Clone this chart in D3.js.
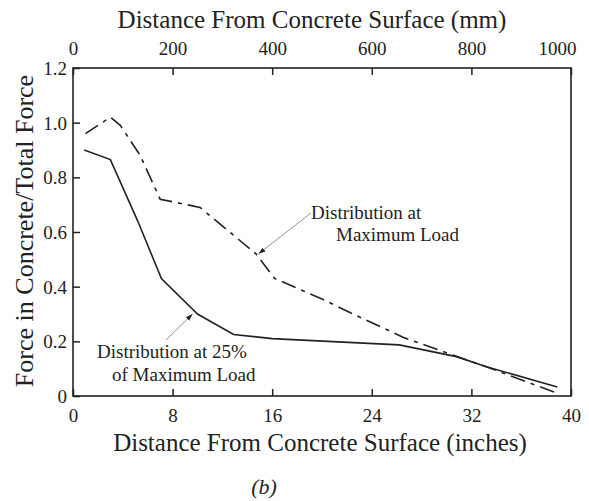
<!doctype html>
<html>
<head>
<meta charset="utf-8">
<script src="https://d3js.org/d3.v7.min.js"></script>
<title>Force in Concrete vs Distance</title>
<style>
  body { margin: 0; background: #fff; }
  svg text { font-family: "Liberation Serif", "Times New Roman", serif; fill: #222; }
</style>
</head>
<body>
<svg width="589" height="501"></svg>
<script>

// data (x in inches, y = force in concrete / total force)
var maxLoadX = [1.0, 3.0, 3.8, 5.4, 7.0, 10.2, 14.7, 16.2, 20.0, 22.5, 26.5, 30.5, 33.2, 38.9];
var maxLoadY = [0.96, 1.02, 0.99, 0.88, 0.72, 0.69, 0.52, 0.43, 0.355, 0.30, 0.215, 0.15, 0.107, 0.01];

var quarterLoadX = [0.9, 3.0, 5.2, 7.1, 10.0, 12.9, 16.0, 26.2, 30.8, 33.2, 38.9];
var quarterLoadY = [0.90, 0.865, 0.64, 0.43, 0.30, 0.225, 0.21, 0.187, 0.144, 0.107, 0.033];

var inchTicks = [0, 8, 16, 24, 32, 40];
var mmTicks = [0, 200, 400, 600, 800, 1000];
var yTicks = [0, 0.2, 0.4, 0.6, 0.8, 1.0, 1.2];

var svg = d3.select("svg"),
    marginLeft = 73, marginTop = 68, width = 498, height = 328;

var x = d3.scaleLinear().domain([0, 40]).range([0, width]),
    xMm = d3.scaleLinear().domain([0, 1000]).range([0, width]),
    y = d3.scaleLinear().domain([0, 1.2]).range([height, 0]);

var g = svg.append("g")
    .attr("transform", "translate(" + marginLeft + "," + marginTop + ")");

// bottom axis (inches)
var xAxis = g.append("g")
    .attr("transform", "translate(0," + height + ")")
    .call(d3.axisBottom(x).tickValues(inchTicks).tickSizeInner(-7).tickSizeOuter(0).tickPadding(13));

// top axis (mm)
var topAxis = g.append("g")
    .call(d3.axisTop(xMm).tickValues(mmTicks).tickSizeInner(-7).tickSizeOuter(0).tickPadding(13)
        .tickFormat(d3.format("d")));

// left axis
var yAxis = g.append("g")
    .call(d3.axisLeft(y).tickValues(yTicks).tickSizeInner(-7).tickSizeOuter(0).tickPadding(6)
        .tickFormat(function(d) { return d === 0 ? "0" : d3.format(".1f")(d); }));

[xAxis, topAxis, yAxis].forEach(function(a) {
    a.select(".domain").remove();
    a.selectAll("line").attr("stroke", "#222").attr("stroke-width", 1.5);
    a.selectAll("text").attr("font-size", "19px").attr("fill", "#222")
        .style("font-family", "'Liberation Serif', serif");
});
topAxis.selectAll("text")
    .filter(function(d) { return d === 1000; })
    .attr("text-anchor", "end").attr("x", 5);
yAxis.selectAll("text").attr("dy", "0.35em");

// frame
g.append("rect")
    .attr("width", width)
    .attr("height", height)
    .attr("fill", "none")
    .attr("stroke", "#222")
    .attr("stroke-width", 1.6);

var line = d3.line()
    .x(function(d) { return x(d[0]); })
    .y(function(d) { return y(d[1]); });

g.append("path")
    .datum(d3.zip(quarterLoadX, quarterLoadY))
    .attr("fill", "none")
    .attr("stroke", "#222")
    .attr("stroke-width", 1.6)
    .attr("d", line);

g.append("path")
    .datum(d3.zip(maxLoadX, maxLoadY))
    .attr("fill", "none")
    .attr("stroke", "#222")
    .attr("stroke-width", 1.6)
    .attr("stroke-dasharray", "15,6,4,6")
    .attr("d", line);

// annotations
svg.append("defs").append("marker")
    .attr("id", "arrow")
    .attr("viewBox", "0 0 10 10")
    .attr("refX", 10).attr("refY", 5)
    .attr("markerWidth", 7).attr("markerHeight", 7)
    .attr("markerUnits", "userSpaceOnUse")
    .attr("orient", "auto")
    .append("path")
    .attr("d", "M0,1.5L10,5L0,8.5z")
    .attr("fill", "#222");

function note(lines, lx1, ly1, px, py) {
    g.append("line")
        .attr("x1", lx1).attr("y1", ly1)
        .attr("x2", x(px)).attr("y2", y(py))
        .attr("stroke", "#888")
        .attr("stroke-width", 0.9)
        .attr("marker-end", "url(#arrow)");
    lines.forEach(function(l) {
        g.append("text")
            .attr("x", l[1]).attr("y", l[2])
            .attr("font-size", "19px")
            .text(l[0]);
    });
}

note([["Distribution at", 311 - marginLeft, 219 - marginTop], ["Maximum Load", 336 - marginLeft, 241 - marginTop]],
    311 - marginLeft, 213 - marginTop, 14.9, 0.52);
note([["Distribution at 25%", 97 - marginLeft, 358 - marginTop], ["of Maximum Load", 112 - marginLeft, 381 - marginTop]],
    166 - marginLeft, 340 - marginTop, 9.6, 0.30);

// titles
svg.append("text")
    .attr("x", 312).attr("y", 28)
    .attr("text-anchor", "middle")
    .attr("font-size", "25px")
    .text("Distance From Concrete Surface (mm)");

svg.append("text")
    .attr("x", 320).attr("y", 451)
    .attr("text-anchor", "middle")
    .attr("font-size", "25px")
    .text("Distance From Concrete Surface (inches)");

svg.append("text")
    .attr("transform", "translate(33,231) rotate(-90)")
    .attr("text-anchor", "middle")
    .attr("font-size", "26px")
    .text("Force in Concrete/Total Force");

svg.append("text")
    .attr("x", 264).attr("y", 494)
    .attr("text-anchor", "middle")
    .attr("font-size", "22px")
    .attr("font-style", "italic")
    .text("(b)");
</script>
</body>
</html>
